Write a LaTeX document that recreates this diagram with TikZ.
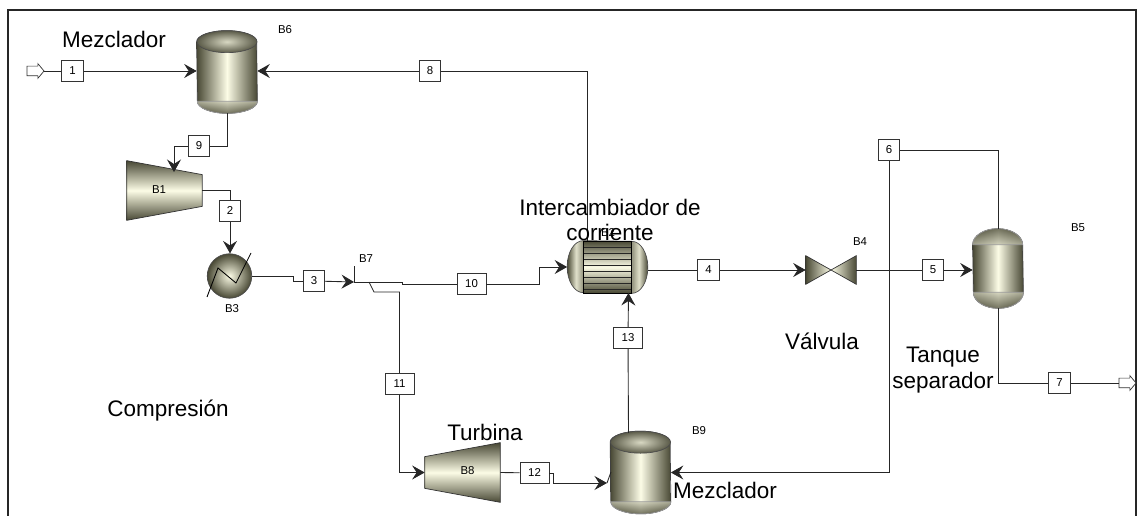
\documentclass[tikz,border=0pt]{standalone}
\usepackage{fontspec}
\setmainfont{Liberation Sans}
\usepackage{xcolor}
\usetikzlibrary{arrows.meta, positioning, shapes.geometric, shapes.arrows, calc}
\definecolor{metaldark}{RGB}{72, 72, 52}
\definecolor{metallight}{RGB}{252, 252, 230}
\pgfdeclarehorizontalshading{capshade}{100bp}{color(0bp)=(metaldark); color(25bp)=(metaldark); color(30.5bp)=(metallight!85!metaldark); color(34.5bp)=(metallight!45!metaldark); color(65.5bp)=(metallight!45!metaldark); color(69.5bp)=(metallight!85!metaldark); color(75bp)=(metaldark); color(100bp)=(metaldark)}
\begin{document}
\begin{tikzpicture}[x=0.02cm, y=-0.02cm,
  stream/.style={draw=black!80, fill=white, minimum size=0.43cm, inner sep=0pt, font=\fontsize{6.5}{7}\selectfont},
  widebox/.style={stream, minimum width=0.58cm},
  blocklbl/.style={font=\fontsize{6.5}{7}\selectfont},
  note/.style={font=\fontsize{12.8}{14.5}\selectfont, align=center},
  vshade/.style={left color=metaldark, right color=metaldark, middle color=metallight},
  hshade/.style={top color=metaldark, bottom color=metaldark, middle color=metallight},
  slot/.style={minimum width=#1, inner sep=0pt},
  topcap/.style={top color=metaldark, bottom color=metallight!70!metaldark, fill opacity=0.75, draw=black!40},
  botcap/.style={top color=metallight!70!metaldark, bottom color=metaldark, fill opacity=0.75, draw=black!40},
  port/.style={single arrow, draw=black!80, fill=white, minimum height=0.34cm, inner ysep=0.09cm, inner xsep=0pt, single arrow head extend=0.05cm, single arrow tip angle=100},
  pipe/.style={draw=black!85, line width=0.5pt},
  arr/.style={pipe, -{Stealth[length=2.5mm, width=2.8mm, inset=0.9mm]}}
]
  \useasboundingbox (0,0) rectangle (1139,516);
  \draw[black!85, line width=0.9pt] (8,516) -- (8,10) -- (1136,10) -- (1136,516);

  \node[port] (feed) at (33.5,71) {};
  \node[port] (product) at (1125.5,383) {};

  \node[slot=1.2cm, minimum height=1.64cm] (B6) at (227,72) {};
  \node[slot=1.2cm, minimum height=1.64cm] (B9) at (640.5,472.5) {};
  \foreach \n in {B6,B9} {
    \shade[vshade, draw=black!75] ($(\n.north west)+(0,11)$) arc[start angle=180, end angle=0, x radius=0.6cm, y radius=0.22cm] -- ($(\n.south east)+(0,-12)$) arc[start angle=0, end angle=-180, x radius=0.6cm, y radius=0.24cm] -- cycle;
    \shade[botcap] ($(\n.south east)+(0,-12)$) arc[start angle=0, end angle=-180, x radius=0.6cm, y radius=0.24cm] -- cycle;
    \shade[draw=black!70, inner color=metallight!80!metaldark, outer color=metaldark!90!white] ($(\n.north)+(0,11)$) ellipse[x radius=0.6cm, y radius=0.22cm];
  }
  \node[slot=1cm, minimum height=1.58cm] (B5) at (998,268.5) {};
  \shade[vshade, draw=black!75] ($(B5.north west)+(0,16)$) arc[start angle=180, end angle=0, x radius=0.5cm, y radius=0.32cm] -- ($(B5.south east)+(0,-16)$) arc[start angle=0, end angle=-180, x radius=0.5cm, y radius=0.32cm] -- cycle;
  \shade[topcap] ($(B5.north west)+(0,16)$) arc[start angle=180, end angle=0, x radius=0.5cm, y radius=0.32cm] -- cycle;
  \shade[botcap] ($(B5.south east)+(0,-16)$) arc[start angle=0, end angle=-180, x radius=0.5cm, y radius=0.32cm] -- cycle;

  \node[slot=1.5cm, minimum height=1.18cm] (B1) at (164.5,190.5) {};
  \shade[hshade, draw=black!80] (B1.north west) -- ($(B1.north east)+(0,14)$) -- ($(B1.south east)+(0,-14)$) -- (B1.south west) -- cycle;
  \node[slot=1.5cm, minimum height=1.18cm] (B8) at (462.5,472.5) {};
  \shade[hshade, draw=black!80] (B8.north east) -- ($(B8.north west)+(0,14)$) -- ($(B8.south west)+(0,-14)$) -- (B8.south east) -- cycle;

  \node[circle, draw=black!70, inner color=metallight, outer color=metaldark, minimum size=0.89cm, inner sep=0pt] (B3) at (229.5,276) {};
  \draw[black, line width=0.5pt] (207,297) -- (218,268) -- (236,283) -- (251,253);

  \node[slot=1.6cm, minimum height=1.04cm] (B2) at (607.5,267) {};
  \shade[shading=capshade, draw=black!70] ($(B2.north west)+(16,0)$) arc[start angle=90, end angle=270, x radius=0.32cm, y radius=0.52cm] -- ($(B2.south east)+(-16,0)$) arc[start angle=-90, end angle=90, x radius=0.32cm, y radius=0.52cm] -- cycle;
  \node[draw=black, minimum width=0.96cm, minimum height=1.04cm, inner sep=0pt, hshade] (B2core) at (607,267) {};
  \foreach \y in {247,253,259,265,271,277,283,289}
    \draw[black!85, line width=0.5pt] (583.5,\y) -- (630.5,\y);

  \node[minimum width=1cm, minimum height=0.56cm, inner sep=0pt] (B4) at (831,270) {};
  \shade[draw=black!80, left color=metaldark, right color=metaldark, middle color=metallight] (B4.north west) -- (B4.south east) -- (B4.north east) -- (B4.south west) -- cycle;

  \node[stream] (s1) at (72.5,71) {1};
  \node[stream] (s2) at (230,211) {2};
  \node[stream] (s3) at (314,281) {3};
  \node[stream] (s4) at (708.5,270) {4};
  \node[stream] (s5) at (933,270) {5};
  \node[stream] (s6) at (889,150) {6};
  \node[stream] (s7) at (1059.5,383) {7};
  \node[stream] (s8) at (430,71) {8};
  \node[stream] (s9) at (199,146) {9};
  \node[widebox] (s10) at (471.5,284) {10};
  \node[widebox] (s11) at (399.5,384) {11};
  \node[widebox] (s12) at (534.5,473) {12};
  \node[widebox] (s13) at (628,338) {13};

  \coordinate (in1) at (174,172);
  \coordinate (out8) at (587,241);
  \coordinate (k3) at (293,281);
  \coordinate (B7) at (354,282);
  \coordinate (tick7) at (354,266);
  \coordinate (k10a) at (402,282);
  \coordinate (k10b) at (539,267);
  \coordinate (k11a) at (369,282);
  \coordinate (k11b) at (374,292);
  \coordinate (k12a) at (553,473);
  \coordinate (k12b) at (553,483);
  \coordinate (k12c) at (607,483);
  \coordinate (in9) at (611,472);
  \coordinate (out13) at (628.5,433);
  \coordinate (in2) at (628.5,293);

  \draw[pipe] (feed) -- (s1);
  \draw[arr] (s1) -- (s1 -| B6.west);
  \draw[pipe] (out8) |- (s8);
  \draw[arr] (s8) -- (s8 -| B6.east);
  \draw[pipe] (B6.south) |- (s9);
  \draw[arr] (s9) -| (in1);
  \draw[pipe] (B1.east) -| (s2);
  \draw[arr] (s2) -- (B3.north -| s2);
  \draw[pipe] (B3.east) -| (k3) -- (s3);
  \draw[arr] (s3) -- (B7);
  \draw[pipe] (B7) -- (tick7);
  \draw[pipe] (B7) -- (k10a) |- (s10);
  \draw[pipe] (s10) -| (k10b);
  \draw[arr] (k10b) -- (k10b -| B2.west);
  \draw[pipe] (k11a) -- (k11b) -| (s11);
  \draw[arr] (s11) |- (B8.west);
  \draw[pipe] (B8.east) -- (s12);
  \draw[pipe] (s12) -- (k12a) -- (k12b);
  \draw[arr] (k12b) -- (k12c);
  \draw[pipe] (k12c) -- (in9);
  \draw[pipe] (out13) -- (s13);
  \draw[arr] (s13) -- (in2);
  \draw[pipe] (B2.east |- s4) -- (s4);
  \draw[arr] (s4) -- (B4.west);
  \draw[pipe] (B4.east) -- (s5);
  \draw[arr] (s5) -- (s5 -| B5.west);
  \draw[pipe] (B5.north) |- (s6);
  \draw[arr] (s6) |- (B9.east);
  \draw[pipe] (B5.south) |- (s7);
  \draw[pipe] (s7) -- (product);

  \node[blocklbl] (lb6) at (285,30) {B6};
  \node[blocklbl] (lb1) at (159,190) {B1};
  \node[blocklbl] (lb3) at (232,309) {B3};
  \node[blocklbl] (lb7) at (366,259) {B7};
  \node[blocklbl] (lb2) at (608,233) {B2};
  \node[blocklbl] (lb4) at (860,242) {B4};
  \node[blocklbl] (lb5) at (1078,228) {B5};
  \node[blocklbl] (lb8) at (467.5,471) {B8};
  \node[blocklbl] (lb9) at (699,431) {B9};

  \node[note] (tmix) at (114,39.5) {Mezclador};
  \node[note] (tmixb) at (725,490.5) {Mezclador};
  \node[note] (thex) at (610,220) {Intercambiador de\\corriente};
  \node[note] (tvalve) at (822,341.5) {Válvula};
  \node[note] (tsep) at (943,370) {Tanque\\separador};
  \node[note] (tcomp) at (168,410.5) {Compresión};
  \node[note] (tturb) at (485,432.5) {Turbina};
\end{tikzpicture}
\end{document}
